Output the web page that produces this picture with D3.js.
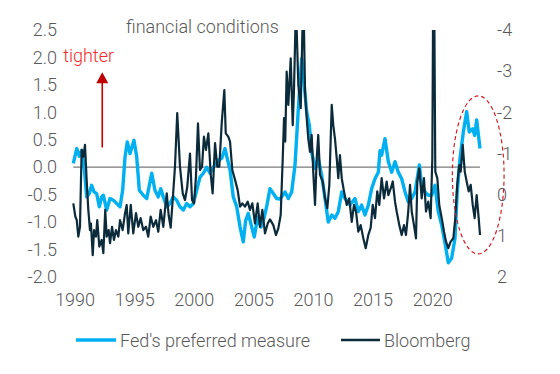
<!DOCTYPE html>
<html>
<head>
<meta charset="utf-8">
<script src="https://cdnjs.cloudflare.com/ajax/libs/d3/7.8.5/d3.min.js"></script>
<style>
body { margin: 0; background: #fff; }
text { font-family: Roboto, "Noto Sans", sans-serif; font-weight: 300; }
</style>
</head>
<body>
<svg id="chart" width="560" height="374"></svg>
<script>

// Fed's preferred measure (FCI-G), left axis
var fedYears = [1990.00,1990.29,1990.50,1990.73,1990.96,1991.12,1991.34,1991.54,1991.74,1991.96,
    1992.18,1992.38,1992.52,1992.80,1993.08,1993.36,1993.64,1993.92,1994.14,1994.34,
    1994.53,1994.76,1995.09,1995.32,1995.54,1995.87,1996.16,1996.58,1996.85,1997.13,
    1997.33,1997.55,1997.84,1998.11,1998.39,1998.67,1998.95,1999.23,1999.51,1999.79,
    2000.07,2000.35,2000.63,2000.91,2001.19,2001.47,2001.75,2002.03,2002.16,2002.45,
    2002.73,2002.95,2003.15,2003.42,2003.71,2003.99,2004.26,2004.46,2004.68,2004.97,
    2005.18,2005.47,2005.75,2006.02,2006.22,2006.50,2006.78,2007.06,2007.34,2007.76,
    2008.04,2008.32,2008.60,2008.88,2009.16,2009.35,2009.58,2009.80,2010.00,2010.28,
    2010.55,2010.84,2011.12,2011.39,2011.68,2011.95,2012.23,2012.52,2012.79,2013.21,
    2013.63,2013.91,2014.19,2014.47,2014.75,2015.03,2015.31,2015.59,2015.73,2015.87,
    2016.15,2016.43,2016.71,2016.99,2017.26,2017.55,2017.83,2018.10,2018.39,2018.67,
    2019.03,2019.23,2019.50,2019.78,2020.07,2020.34,2020.62,2020.91,2021.18,2021.46,
    2021.74,2022.02,2022.21,2022.44,2022.72,2023.00,2023.22,2023.51,2023.67,2023.84,
    2024.12];
var fedValues = [0.07,0.34,0.20,0.31,-0.11,-0.54,-0.48,-0.33,-0.45,-0.48,
    -0.72,-0.54,-0.51,-0.78,-0.57,-0.60,-0.66,-0.72,-0.42,0.19,
    0.46,0.25,0.49,0.19,-0.42,-0.51,-0.57,-0.11,-0.42,-0.54,
    -0.39,-0.54,-0.72,-0.66,-0.54,-0.60,-0.72,-0.78,-0.66,-0.72,
    -0.66,-0.42,-0.18,-0.11,0.00,-0.11,0.00,0.07,0.13,0.16,
    0.34,0.13,-0.05,-0.54,-0.72,-1.09,-1.36,-0.97,-0.84,-1.09,
    -1.27,-0.91,-1.09,-0.91,-0.72,-0.39,-0.48,-0.57,-0.58,-0.45,
    -0.57,-0.45,0.04,1.07,1.98,1.55,1.01,0.77,0.28,-0.02,
    0.16,-0.15,-0.57,-1.00,-0.87,-0.93,-0.81,-0.45,-0.57,-0.69,
    -0.57,-0.81,-0.69,-0.87,-0.69,-0.39,-0.21,-0.09,0.30,0.22,
    0.52,0.10,-0.09,0.10,-0.09,-0.21,-0.45,-0.63,-0.57,-0.45,
    0.04,-0.33,-0.45,-0.51,-0.51,-0.33,-0.81,-1.06,-1.38,-1.74,
    -1.66,-1.30,-0.45,0.16,0.64,1.01,0.64,0.70,0.58,0.86,
    0.34];

// Bloomberg financial conditions, right axis (inverted)
var bbgYears = [1990.00,1990.17,1990.29,1990.42,1990.56,1990.70,1990.84,1990.98,1991.12,1991.26,
    1991.40,1991.48,1991.63,1991.74,1991.90,1992.01,1992.18,1992.38,1992.52,1992.68,
    1992.80,1992.97,1993.08,1993.25,1993.41,1993.58,1993.78,1993.92,1994.14,1994.34,
    1994.48,1994.61,1994.82,1995.03,1995.26,1995.45,1995.65,1995.87,1996.10,1996.29,
    1996.49,1996.71,1996.94,1997.13,1997.33,1997.55,1997.69,1997.84,1998.00,1998.17,
    1998.34,1998.53,1998.72,1998.95,1999.18,1999.37,1999.56,1999.79,1999.96,2000.13,
    2000.29,2000.46,2000.63,2000.80,2000.96,2001.13,2001.33,2001.53,2001.69,2001.89,
    2002.08,2002.25,2002.45,2002.67,2002.79,2003.00,2003.15,2003.34,2003.57,2003.79,
    2003.99,2004.18,2004.40,2004.63,2004.82,2005.02,2005.24,2005.47,2005.66,2005.86,
    2006.08,2006.31,2006.50,2006.78,2007.00,2007.20,2007.40,2007.57,2007.68,2007.78,
    2007.90,2008.04,2008.24,2008.41,2008.51,2008.68,2008.88,2009.08,2009.30,2009.44,
    2009.58,2009.71,2009.86,2010.00,2010.13,2010.28,2010.42,2010.55,2010.70,2010.92,
    2011.12,2011.31,2011.48,2011.68,2011.81,2011.95,2012.10,2012.23,2012.37,2012.52,
    2012.71,2012.94,2013.15,2013.36,2013.55,2013.72,2013.91,2014.11,2014.33,2014.53,
    2014.75,2014.95,2015.12,2015.31,2015.50,2015.67,2015.87,2016.07,2016.29,2016.43,
    2016.63,2016.80,2016.99,2017.13,2017.35,2017.55,2017.74,2017.91,2018.10,2018.25,
    2018.39,2018.58,2018.75,2018.86,2019.03,2019.23,2019.42,2019.59,2019.78,2019.98,
    2020.12,2020.23,2020.37,2020.54,2020.70,2020.91,2021.10,2021.27,2021.46,2021.66,
    2021.88,2022.05,2022.21,2022.38,2022.50,2022.67,2022.84,2023.00,2023.17,2023.34,
    2023.51,2023.67,2023.84,2024.01,2024.12];
var bbgValues = [0.21,0.53,0.62,1.02,0.78,-1.09,-0.92,-1.21,-0.36,0.37,
    0.86,0.70,1.47,0.86,1.02,0.62,1.26,1.10,1.42,0.37,
    1.02,0.86,1.18,0.78,1.10,0.86,1.02,0.62,0.86,0.45,
    0.25,0.94,0.25,0.94,0.45,0.78,0.57,0.86,0.78,1.02,
    0.53,0.78,0.62,0.90,0.37,0.78,0.37,-0.03,0.50,0.80,
    0.13,-0.68,-1.98,-0.68,-0.03,0.13,-0.19,-1.00,0.13,0.21,
    -0.44,-1.73,-0.60,-0.68,-1.41,-1.09,-1.49,-0.49,-0.03,-1.25,
    -0.68,-0.68,-1.73,-2.54,-1.49,-1.41,-1.29,-0.60,-0.36,-0.11,
    0.29,0.21,0.29,0.17,0.37,0.21,0.70,0.21,0.78,0.37,
    0.94,0.70,0.60,0.74,0.98,0.82,0.49,-0.88,-1.86,-1.29,
    -2.99,-2.18,-3.31,-1.69,-2.50,-4.60,-2.66,-2.10,-5.00,-2.50,
    -1.86,-1.37,-1.04,-1.45,-0.56,0.25,-0.88,-1.45,-0.48,-0.32,
    0.09,0.33,-0.24,-2.18,-1.69,-1.37,-0.88,-0.40,-0.96,-0.40,
    -0.08,0.25,0.09,0.66,0.25,0.41,0.90,0.74,1.06,1.30,
    0.98,0.80,0.25,0.57,-0.08,0.25,-0.40,0.09,-0.32,0.01,
    -0.15,-0.32,0.17,0.41,0.74,0.98,0.74,0.98,0.41,-0.24,
    0.41,0.74,1.06,-0.32,-0.64,0.09,-0.40,0.41,0.17,0.57,
    -0.88,-7.00,-0.56,-0.40,0.25,0.57,0.90,1.14,1.30,1.14,
    1.06,0.57,-0.24,-0.72,-0.56,-1.21,-0.56,-0.32,-0.08,-0.24,
    0.25,0.57,0.01,0.57,0.98];

var leftTicks  = [2.5, 2.0, 1.5, 1.0, 0.5, 0.0, -0.5, -1.0, -1.5, -2.0];
var rightTicks = [-4, -3, -2, -1, 0, 1, 2];
var yearTicks  = [1990, 1995, 2000, 2005, 2010, 2015, 2020];
var seriesNames  = ["Fed's preferred measure", "Bloomberg"];
var seriesColors = ["#00b0f0", "#0b2a3a"];

var svg = d3.select("#chart"),
    width = +svg.attr("width"),
    height = +svg.attr("height");

var margin = {left: 73.3, right: 480, top: 30, bottom: 277};
var textColor = "#595959";

var x = d3.scaleLinear().domain([1990, 2024.12]).range([margin.left, margin.right]);
var yLeft = d3.scaleLinear().domain([-2, 2.5]).range([margin.bottom, margin.top]);
var yRight = d3.scaleLinear().domain([-4, 2]).range([margin.top, margin.bottom]);

svg.append("rect").attr("width", width).attr("height", height).attr("fill", "#fff");

// axes (labels only)
var leftAxis = svg.append("g")
    .attr("transform", "translate(60,0)")
    .call(d3.axisLeft(yLeft).tickValues(leftTicks).tickSize(0).tickPadding(3)
        .tickFormat(function (d) { return d.toFixed(1); }));

var rightAxis = svg.append("g")
    .attr("transform", "translate(497,0)")
    .call(d3.axisRight(yRight).tickValues(rightTicks).tickSize(0).tickPadding(0)
        .tickFormat(function (d) { return String(d); }));

var bottomAxis = svg.append("g")
    .attr("transform", "translate(1.3,293)")
    .call(d3.axisBottom(x).tickValues(yearTicks).tickSize(0).tickPadding(0)
        .tickFormat(d3.format("d")));

[leftAxis, rightAxis, bottomAxis].forEach(function (g) {
    g.select(".domain").remove();
    g.selectAll("text")
        .attr("fill", textColor)
        .style("font-size", "18px")
        .style("font-family", "Roboto, 'Noto Sans', sans-serif")
        .style("font-weight", 300);
});

// zero line
svg.append("line")
    .attr("x1", x(1990)).attr("x2", x(2024.12))
    .attr("y1", yLeft(0)).attr("y2", yLeft(0))
    .attr("stroke", "#7a7a7a").attr("stroke-width", 1.2);

svg.append("clipPath").attr("id", "plotClip")
  .append("rect")
    .attr("x", 0).attr("y", margin.top)
    .attr("width", width).attr("height", height);

var fedLine = d3.line()
    .x(function (d, i) { return x(fedYears[i]); })
    .y(function (d) { return yLeft(d); });

var bbgLine = d3.line()
    .x(function (d, i) { return x(bbgYears[i]); })
    .y(function (d) { return yRight(d); });

svg.append("path")
    .attr("d", fedLine(fedValues))
    .attr("fill", "none")
    .attr("stroke", seriesColors[0])
    .attr("stroke-width", 3.4)
    .attr("stroke-linejoin", "round");

svg.append("path")
    .attr("d", bbgLine(bbgValues))
    .attr("clip-path", "url(#plotClip)")
    .attr("fill", "none")
    .attr("stroke", seriesColors[1])
    .attr("stroke-width", 2.2)
    .attr("stroke-linejoin", "round");

// title
svg.append("text")
    .attr("x", 126).attr("y", 32.5)
    .attr("fill", textColor)
    .style("font-size", "18px")
    .text("financial conditions");

// "tighter" annotation with arrow
svg.append("text")
    .attr("x", x(1989.15)).attr("y", yLeft(1.91))
    .attr("fill", "#f42a2a")
    .style("font-size", "18px")
    .text("tighter");

var arrowX = x(1992.43);
svg.append("line")
    .attr("x1", arrowX).attr("x2", arrowX)
    .attr("y1", yLeft(0.36)).attr("y2", yLeft(1.55))
    .attr("stroke", "#c00000").attr("stroke-width", 1.6);

svg.append("path")
    .attr("d", d3.line()([[arrowX - 6, yLeft(1.53)], [arrowX + 6, yLeft(1.53)], [arrowX, yLeft(1.73)]]) + "Z")
    .attr("fill", "#c00000");

// dashed ellipse around the latest readings
svg.append("ellipse")
    .attr("cx", x(2023.97)).attr("cy", yLeft(-0.14))
    .attr("rx", x(2023.97) - x(2021.8)).attr("ry", yLeft(-0.14) - yLeft(1.3))
    .attr("fill", "none")
    .attr("stroke", "#d0202a")
    .attr("stroke-width", 1.2)
    .attr("stroke-dasharray", "4,3");

// legend
var legendItems = [
    {name: seriesNames[0], color: seriesColors[0], x1: 76, x2: 116, w: 3.5},
    {name: seriesNames[1], color: seriesColors[1], x1: 341, x2: 380, w: 2.5}
];
var legendY = 340;
legendItems.forEach(function (d) {
    svg.append("line")
        .attr("x1", d.x1).attr("x2", d.x2)
        .attr("y1", legendY).attr("y2", legendY)
        .attr("stroke", d.color).attr("stroke-width", d.w);
    svg.append("text")
        .attr("x", d.x2 + 4).attr("y", legendY + 6.5)
        .attr("fill", textColor)
        .style("font-size", "18px")
        .text(d.name);
});

</script>
</body>
</html>
